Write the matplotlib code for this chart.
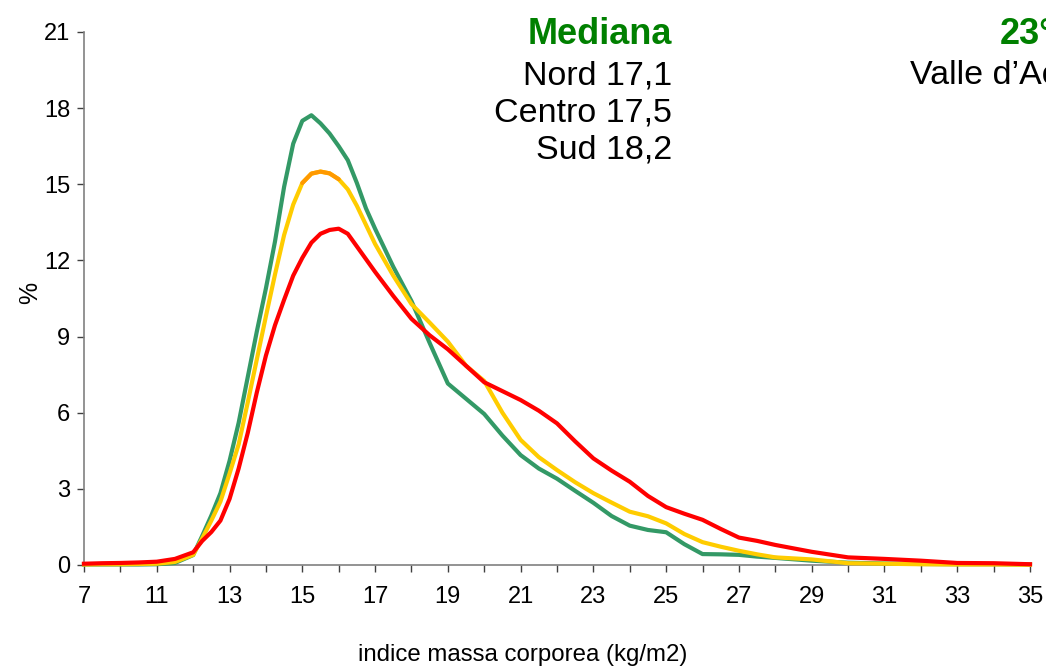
import matplotlib
matplotlib.use("Agg")
import matplotlib.pyplot as plt

plt.rcParams['font.family'] = ['Liberation Sans', 'DejaVu Sans']

# BMI grid (category axis: first tick is labelled "7")
bmi = [9, 9.5, 10, 10.5, 11, 11.5, 12, 12.25, 12.5, 12.75, 13, 13.25, 13.5, 13.75,
       14, 14.25, 14.5, 14.75, 15, 15.25, 15.5, 15.75, 16, 16.25, 16.5, 16.75,
       17, 17.5, 18, 18.5, 19, 19.5, 20, 20.5, 21, 21.5, 22, 22.5, 23, 23.5,
       24, 24.5, 25, 25.5, 26, 26.5, 27, 27.5, 28, 29, 30, 31, 32, 33, 34, 35]

nord = [0.02, 0.02, 0.02, 0.02, 0.03, 0.08, 0.39, 1.15, 1.95, 2.83, 4.1, 5.6, 7.4, 9.2,
        10.9, 12.75, 14.9, 16.6, 17.5, 17.72, 17.4, 17.0, 16.5, 15.95, 15.05, 14.05,
        13.25, 11.75, 10.4, 8.75, 7.15, 6.55, 5.95, 5.1, 4.33, 3.8, 3.4, 2.92, 2.45, 1.93,
        1.55, 1.38, 1.29, 0.82, 0.43, 0.42, 0.4, 0.33, 0.28, 0.17, 0.09, 0.06, 0.04, 0.03, 0.03, 0.02]

centro = [0.02, 0.03, 0.03, 0.04, 0.05, 0.12, 0.4, 1.05, 1.75, 2.5, 3.6, 4.75, 6.4, 8.1,
          9.8, 11.45, 13.0, 14.2, 15.05, 15.42, 15.5, 15.43, 15.2, 14.8, 14.15, 13.4,
          12.65, 11.4, 10.28, 9.55, 8.8, 7.85, 7.25, 6.0, 4.93, 4.25, 3.74, 3.26, 2.83, 2.46,
          2.1, 1.92, 1.64, 1.22, 0.9, 0.72, 0.56, 0.42, 0.3, 0.22, 0.07, 0.05, 0.03, 0.02, 0.02, 0.01]

sud = [0.05, 0.07, 0.08, 0.1, 0.13, 0.24, 0.5, 0.95, 1.3, 1.75, 2.6, 3.8, 5.2, 6.8,
       8.25, 9.45, 10.45, 11.4, 12.1, 12.7, 13.05, 13.2, 13.25, 13.05, 12.55, 12.05,
       11.55, 10.6, 9.7, 9.05, 8.5, 7.85, 7.2, 6.85, 6.5, 6.08, 5.58, 4.87, 4.2, 3.72,
       3.28, 2.72, 2.28, 2.02, 1.78, 1.42, 1.08, 0.95, 0.79, 0.52, 0.3, 0.24, 0.17, 0.08, 0.07, 0.03]

tick_values = list(range(9, 36))
tick_labels = ["7", "", "11", "", "13", "", "15", "", "17", "", "19", "", "21", "", "23",
               "", "25", "", "27", "", "29", "", "31", "", "33", "", "35"]
y_ticks = [0, 3, 6, 9, 12, 15, 18, 21]

mediana_title = "Mediana"
mediana_lines = ["Nord 17,1", "Centro 17,5", "Sud 18,2"]
p23_title = "23°"
p23_line = "Valle d\u2019Aosta"

fig = plt.figure(figsize=(10.46, 6.68), dpi=100)
ax = fig.add_axes([0.0803, 0.1542, 0.9044, 0.7979])

lw = 3.0
ax.plot(bmi, nord, color='#339966', lw=lw, solid_joinstyle='round', clip_on=False, zorder=3)
ax.plot(bmi, centro, color='#FFCC00', lw=lw, solid_joinstyle='round', clip_on=False, zorder=4)
# orange tint at the top of the Centro curve
i0, i1 = bmi.index(15), bmi.index(16) + 1
ax.plot(bmi[i0:i1], centro[i0:i1], color='#FF9900', lw=lw, solid_capstyle='round', zorder=4)
ax.plot(bmi, sud, color='#FF0000', lw=lw, solid_joinstyle='round', clip_on=False, zorder=5)

ax.set_xlim(9, 35)
ax.set_ylim(0, 21)
ax.set_xticks(tick_values)
ax.set_xticklabels(tick_labels)
ax.set_yticks(y_ticks)
ax.set_yticklabels([str(v) for v in y_ticks])

for s in ['top', 'right']:
    ax.spines[s].set_visible(False)
for s in ['left', 'bottom']:
    ax.spines[s].set_color('#808080')
    ax.spines[s].set_linewidth(1.2)
ax.tick_params(axis='x', direction='out', length=5, width=1, color='#404040',
               labelsize=17, pad=10)
ax.tick_params(axis='y', direction='out', length=5, width=1, color='#404040',
               labelsize=17, pad=5)

fig.text(0.5, 1 - 655 / 668, "indice massa corporea (kg/m2)", ha='center', va='center', fontsize=17.3)
fig.text(30 / 1046, 1 - 293 / 668, "%", ha='center', va='center', rotation=90, fontsize=18)

fig.text(672 / 1046, 1 - 35 / 668, mediana_title, ha='right', va='center', fontsize=26,
         fontweight='bold', color='#008000')
for k, t in enumerate(mediana_lines):
    fig.text(672 / 1046, 1 - (76 + 37 * k) / 668, t, ha='right', va='center', fontsize=24.5)

fig.text(1000 / 1046, 1 - 35 / 668, p23_title, ha='left', va='center', fontsize=26,
         fontweight='bold', color='#008000')
fig.text(910 / 1046, 1 - 76 / 668, p23_line, ha='left', va='center', fontsize=24.5)

fig.savefig("out.png", dpi=100)
